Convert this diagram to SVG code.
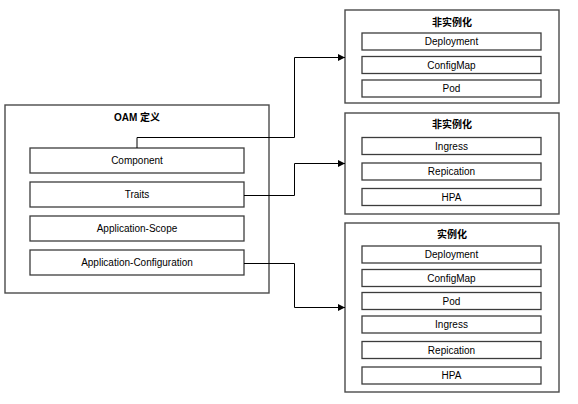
<svg xmlns="http://www.w3.org/2000/svg" width="578" height="404" viewBox="0 0 578 404">
<defs>
<style>
.outer{fill:#fff;stroke:#4a4a4a;stroke-width:1.4}
.inner{fill:#fff;stroke:#3c3c3c;stroke-width:1.3}
.t{font-family:"Liberation Sans",Arial,sans-serif;font-size:10px;fill:#000;text-anchor:middle;dominant-baseline:central}
.h{font-family:"Liberation Sans","Noto Sans CJK SC",sans-serif;font-size:10px;font-weight:bold;fill:#000;text-anchor:middle;dominant-baseline:central}
.c{fill:none;stroke:#000;stroke-width:1}
</style>
<marker id="arr" viewBox="0 0 10 10" refX="10" refY="5" markerWidth="7" markerHeight="7" markerUnits="userSpaceOnUse" orient="auto">
<path d="M0,0 L10,5 L0,10 Z" fill="#000"/>
</marker>
</defs>
<rect width="578" height="404" fill="#fff"/>

<g id="oam">
<rect class="outer" x="5" y="105" width="264" height="188"/>
<text class="h" x="137" y="117">OAM 定义</text>
</g>
<g id="component"><rect class="inner" x="30" y="148" width="214" height="25"/><text class="t" x="137" y="160.5">Component</text></g>
<g id="traits"><rect class="inner" x="30" y="182" width="214" height="25"/><text class="t" x="137" y="194.5">Traits</text></g>
<g id="scope"><rect class="inner" x="30" y="216" width="214" height="25"/><text class="t" x="137" y="228.5">Application-Scope</text></g>
<g id="config"><rect class="inner" x="30" y="250" width="214" height="25"/><text class="t" x="137" y="262.5">Application-Configuration</text></g>

<g id="box1">
<rect class="outer" x="345" y="10" width="214" height="93"/>
<text class="h" x="452" y="22">非实例化</text>
<rect class="inner" x="362" y="33" width="179" height="17"/><text class="t" x="451.5" y="41.5">Deployment</text>
<rect class="inner" x="362" y="56.5" width="179" height="17"/><text class="t" x="451.5" y="65">ConfigMap</text>
<rect class="inner" x="362" y="80" width="179" height="17"/><text class="t" x="451.5" y="88.5">Pod</text>
</g>

<g id="box2">
<rect class="outer" x="345" y="113" width="214" height="101"/>
<text class="h" x="452" y="124">非实例化</text>
<rect class="inner" x="362" y="137.5" width="179" height="17"/><text class="t" x="451.5" y="146">Ingress</text>
<rect class="inner" x="362" y="163" width="179" height="17"/><text class="t" x="451.5" y="171.5">Repication</text>
<rect class="inner" x="362" y="188.5" width="179" height="17"/><text class="t" x="451.5" y="197">HPA</text>
</g>

<g id="box3">
<rect class="outer" x="345" y="223" width="214" height="169"/>
<text class="h" x="452" y="234">实例化</text>
<rect class="inner" x="362" y="246" width="179" height="17"/><text class="t" x="451.5" y="254.5">Deployment</text>
<rect class="inner" x="362" y="269.5" width="179" height="17"/><text class="t" x="451.5" y="278">ConfigMap</text>
<rect class="inner" x="362" y="292.5" width="179" height="17"/><text class="t" x="451.5" y="301">Pod</text>
<rect class="inner" x="362" y="316" width="179" height="17"/><text class="t" x="451.5" y="324.5">Ingress</text>
<rect class="inner" x="362" y="341.5" width="179" height="17"/><text class="t" x="451.5" y="350">Repication</text>
<rect class="inner" x="362" y="367" width="179" height="17"/><text class="t" x="451.5" y="375.5">HPA</text>
</g>

<g id="connectors">
<path class="c" d="M137,148 V137.5 H294.5 V57.5 H345" marker-end="url(#arr)"/>
<path class="c" d="M244,195.5 H294.5 V163.5 H345" marker-end="url(#arr)"/>
<path class="c" d="M244,263.5 H294.5 V307.5 H345" marker-end="url(#arr)"/>
</g>
</svg>
